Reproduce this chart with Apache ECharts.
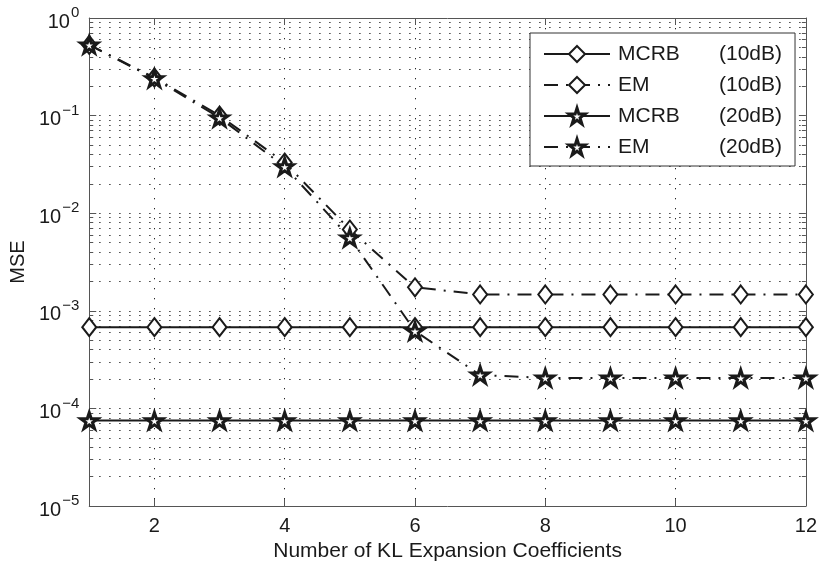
<!DOCTYPE html>
<html>
<head>
<meta charset="utf-8">
<script src="https://cdn.jsdelivr.net/npm/echarts@6/dist/echarts.min.js"></script>
<style>
html,body{margin:0;padding:0;background:#fff;}
#chart{width:820px;height:569px;}
</style>
</head>
<body>
<div id="chart"></div>
<script>
// ---- data ----
const xValues = [1, 2, 3, 4, 5, 6, 7, 8, 9, 10, 11, 12];
const mcrb10 = [6.8e-4, 6.8e-4, 6.8e-4, 6.8e-4, 6.8e-4, 6.8e-4, 6.8e-4, 6.8e-4, 6.8e-4, 6.8e-4, 6.8e-4, 6.8e-4];
const em10   = [0.53, 0.245, 0.100, 0.033, 0.0068, 0.00174, 0.00147, 0.00147, 0.00147, 0.00147, 0.00147, 0.00147];
const mcrb20 = [7.5e-5, 7.5e-5, 7.5e-5, 7.5e-5, 7.5e-5, 7.5e-5, 7.5e-5, 7.5e-5, 7.5e-5, 7.5e-5, 7.5e-5, 7.5e-5];
const em20   = [0.53, 0.240, 0.095, 0.030, 0.0056, 0.00062, 0.00022, 0.000205, 0.000205, 0.000205, 0.000205, 0.000205];
const seriesNames = ['MCRB (10dB)', 'EM (10dB)', 'MCRB (20dB)', 'EM (20dB)'];
const xTicks = [2, 4, 6, 8, 10, 12];
const yMajorTicks = [1e-5, 1e-4, 1e-3, 1e-2, 1e-1, 1];
const yMinorTicks = [];
for (let d = -5; d < 0; d++) { for (let m = 2; m <= 9; m++) yMinorTicks.push(m * Math.pow(10, d)); }

const FONT = 'Liberation Sans, Arial, Helvetica, sans-serif';
const INK = '#1a1a1a';
const AXIS = '#555';
const STAR = 'path://M50,0 L61.2,34.5 L97.6,34.5 L68.2,55.9 L79.4,90.5 L50,69.1 L20.6,90.5 L31.8,55.9 L2.4,34.5 L38.8,34.5 Z';
const DASHDOT = [14, 8, 2, 8];
const DOTTED = [1.3, 8.7];

function pair(ys) { return xValues.map((x, i) => [x, ys[i]]); }

function mkSeries(name, ys, solid, star) {
  return {
    name: name, type: 'line', data: pair(ys), xAxisIndex: 0, yAxisIndex: 0,
    symbol: star ? STAR : 'diamond',
    symbolSize: star ? [17, 16] : [14, 18],
    showAllSymbol: true,
    lineStyle: { color: INK, width: 2, type: solid ? 'solid' : DASHDOT },
    itemStyle: { color: '#fff', borderColor: INK, borderWidth: star ? 3 : 2 },
    emphasis: { disabled: true },
    animation: false
  };
}

function yAx(pos, ticks, len, labels, split) {
  return {
    type: 'log', logBase: 10, min: 1e-5, max: 1, position: pos,
    axisLine: { show: labels !== null ? true : false, onZero: false, lineStyle: { color: AXIS, width: 1 } },
    axisTick: { show: true, inside: true, length: len, customValues: ticks, lineStyle: { color: AXIS, width: 1 } },
    axisLabel: labels ? {
      show: true, margin: 10, customValues: ticks, fontFamily: FONT, color: INK,
      formatter: function (v) {
        const e = Math.round(Math.log10(v));
        return '{b|10}{s|' + (e < 0 ? '\u2212' + (-e) : String(e)) + '}';
      },
      rich: {
        b: { fontSize: 20, fontFamily: FONT, color: INK, padding: [8, 0, 0, 0] },
        s: { fontSize: 15, fontFamily: FONT, color: INK, padding: [0, 0, 10, 1] }
      }
    } : { show: false },
    splitLine: split ? { show: true, lineStyle: { color: '#222', width: 1, type: DOTTED } } : { show: false },
    minorTick: { show: false }, minorSplitLine: { show: false }
  };
}

const legendData = seriesNames.map((n, i) => i >= 2
  ? { name: n, itemStyle: { color: '#fff', borderColor: INK, borderWidth: 3 } }
  : { name: n });

const chart = echarts.init(document.getElementById('chart'), null, { renderer: 'canvas' });
chart.setOption({
  animation: false,
  backgroundColor: '#fff',
  grid: { left: 86, right: 12, top: 18, bottom: 63, containLabel: false, show: false },
  legend: {
    show: true, orient: 'vertical', left: 530, top: 33,
    padding: [9, 13, 7, 13], itemGap: 7,
    itemWidth: 66, itemHeight: 20,
    backgroundColor: '#fff', borderColor: '#333', borderWidth: 1, borderRadius: 0,
    data: legendData,
    formatter: function (n) {
      const p = n.split(' ');
      return '{a|' + p[0] + '}{b|' + p[1] + '}';
    },
    textStyle: {
      fontFamily: FONT, fontSize: 21, color: INK, lineHeight: 24,
      rich: {
        a: { fontFamily: FONT, fontSize: 21, color: INK, width: 101, padding: [0, 0, 0, 3] },
        b: { fontFamily: FONT, fontSize: 21, color: INK }
      }
    },
    selectedMode: false
  },
  xAxis: [
    {
      type: 'value', min: 1, max: 12, position: 'bottom',
      name: 'Number of KL Expansion Coefficients', nameLocation: 'middle', nameGap: 33,
      nameTextStyle: { fontFamily: FONT, fontSize: 21, color: INK },
      axisLine: { show: true, onZero: false, lineStyle: { color: AXIS, width: 1 } },
      axisTick: { show: true, inside: true, length: 7, customValues: xTicks, lineStyle: { color: AXIS } },
      axisLabel: { show: true, customValues: xTicks, fontFamily: FONT, fontSize: 20, color: INK, margin: 10 },
      splitLine: { show: true, lineStyle: { color: '#222', width: 1, type: DOTTED } }
    },
    {
      type: 'value', min: 1, max: 12, position: 'top',
      axisLine: { show: true, onZero: false, lineStyle: { color: AXIS, width: 1 } },
      axisTick: { show: true, inside: true, length: 7, customValues: xTicks, lineStyle: { color: AXIS } },
      axisLabel: { show: false },
      splitLine: { show: false }
    }
  ],
  yAxis: [
    Object.assign(yAx('left', yMajorTicks, 7, true, true), {
      name: 'MSE', nameLocation: 'middle', nameGap: 57,
      nameTextStyle: { fontFamily: FONT, fontSize: 20, color: INK }
    }),
    yAx('left', yMinorTicks, 4, null, true),
    yAx('right', yMajorTicks, 7, false, false),
    yAx('right', yMinorTicks, 4, null, false)
  ],
  series: [
    mkSeries(seriesNames[0], mcrb10, true, false),
    mkSeries(seriesNames[1], em10, false, false),
    mkSeries(seriesNames[2], mcrb20, true, true),
    mkSeries(seriesNames[3], em20, false, true)
  ]
});
</script>
</body>
</html>
